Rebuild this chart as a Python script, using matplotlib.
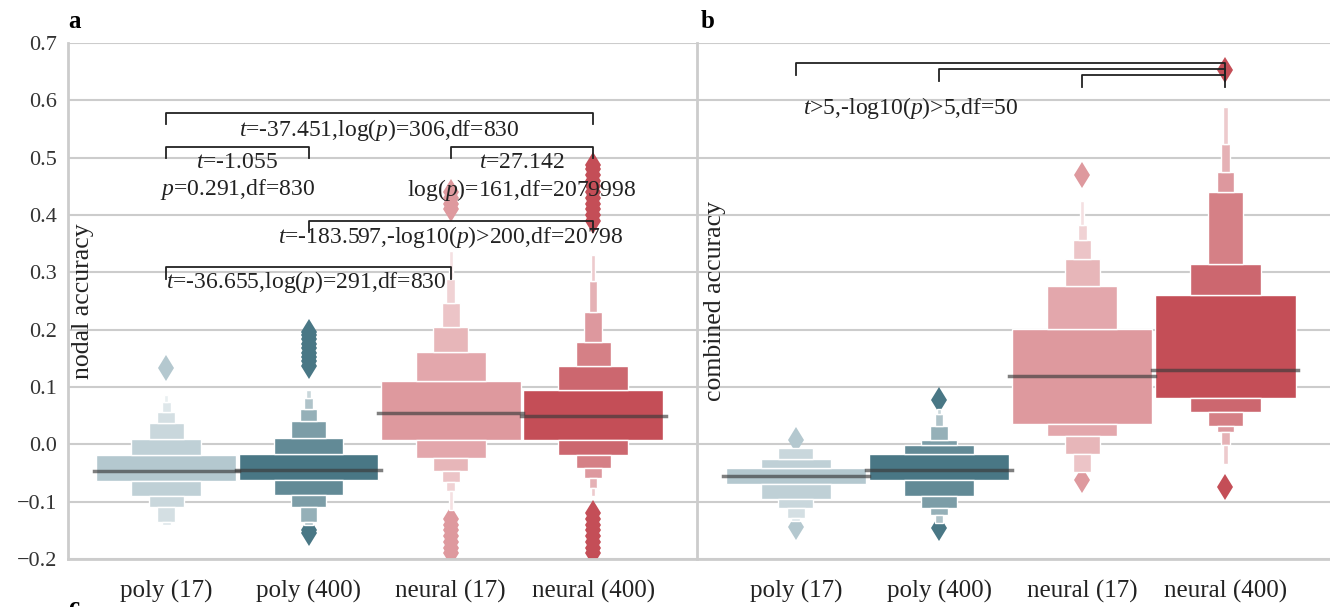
import matplotlib.pyplot as plt
import numpy as np
from matplotlib.colors import to_rgb

plt.rcParams['font.family'] = ['Liberation Serif', 'DejaVu Serif']
plt.rcParams['mathtext.fontset'] = 'custom'
plt.rcParams['mathtext.rm'] = 'Liberation Serif'
plt.rcParams['mathtext.it'] = 'Liberation Serif:italic'

categories = ['poly (17)', 'poly (400)', 'neural (17)', 'neural (400)']
colors = ['#b4c8cf', '#497785', '#de999e', '#c44e57']

# panel a: nodal accuracy (letter-value edges, median, outliers)
nodal_median = [-0.047, -0.045, 0.054, 0.049]
nodal_upper = [
    [-0.019, 0.009, 0.038, 0.056, 0.073, 0.086],
    [-0.016, 0.011, 0.040, 0.062, 0.080, 0.095],
    [0.111, 0.161, 0.204, 0.247, 0.289, 0.337],
    [0.094, 0.136, 0.179, 0.231, 0.285, 0.330],
]
nodal_lower = [
    [-0.064, -0.090, -0.110, -0.135, -0.141],
    [-0.063, -0.089, -0.110, -0.135, -0.141],
    [0.008, -0.024, -0.047, -0.066, -0.081, -0.115],
    [0.008, -0.019, -0.042, -0.059, -0.076, -0.090],
]
nodal_outliers = [
    [0.134],
    [0.136, 0.145, 0.152, 0.160, 0.168, 0.175, 0.183, 0.190, 0.196, -0.150, -0.154],
    [0.410, 0.420, 0.430, 0.440, -0.130, -0.140, -0.150, -0.160, -0.170, -0.180, -0.190],
    [0.390, 0.400, 0.410, 0.420, 0.430, 0.440, 0.450, 0.460, 0.470, 0.480, 0.488,
     -0.120, -0.130, -0.140, -0.150, -0.160, -0.170, -0.180, -0.190],
]

# panel b: combined accuracy
comb_median = [-0.056, -0.045, 0.120, 0.130]
comb_upper = [
    [-0.041, -0.026, -0.007],
    [-0.016, -0.001, 0.007, 0.032, 0.053, 0.062],
    [0.201, 0.276, 0.323, 0.357, 0.383, 0.425],
    [0.260, 0.314, 0.440, 0.475, 0.523, 0.588],
]
comb_lower = [
    [-0.069, -0.095, -0.111, -0.129, -0.134],
    [-0.063, -0.090, -0.111, -0.124, -0.137],
    [0.035, 0.015, -0.016, -0.048],
    [0.081, 0.057, 0.032, 0.021, -0.001, -0.035],
]
comb_outliers = [
    [0.007, -0.145],
    [0.078, -0.146],
    [0.469, -0.062],
    [0.653, -0.075],
]

# significance brackets: (x1, x2, y)
nodal_brackets = [(0, 3, 0.578), (0, 1, 0.519), (2, 3, 0.519), (1, 3, 0.390), (0, 2, 0.309)]
comb_brackets = [(0, 3, 0.665), (1, 3, 0.654), (2, 3, 0.644)]


def shade(c, k):
    base = np.array(to_rgb(c))
    return base + (1 - base) * min(0.14 * k, 0.8)


def boxen(ax, medians, uppers, lowers, outliers):
    for i in range(len(categories)):
        up, lo, c = uppers[i], lowers[i], colors[i]
        ax.plot([i] * len(outliers[i]), outliers[i], 'd', color=c, ms=13, mew=0, zorder=2)
        ax.bar(i, up[0] - lo[0], bottom=lo[0], width=0.98, color=shade(c, 0),
               edgecolor='white', lw=1, zorder=3)
        for k in range(1, len(up)):
            ax.bar(i, up[k] - up[k - 1], bottom=up[k - 1], width=0.98 * 0.5 ** k,
                   color=shade(c, k), edgecolor='white', lw=1, zorder=3)
        for k in range(1, len(lo)):
            ax.bar(i, lo[k - 1] - lo[k], bottom=lo[k], width=0.98 * 0.5 ** k,
                   color=shade(c, k), edgecolor='white', lw=1, zorder=3)
        ax.plot([i - 0.51, i + 0.51], [medians[i]] * 2, color='#3a3a3a', alpha=0.65,
                lw=2.5, zorder=4)


def brackets(ax, items, h=0.02):
    for x1, x2, y in items:
        ax.plot([x1, x1, x2, x2], [y - h, y, y, y - h], color='#222222', lw=1.3, zorder=5)


def style(ax):
    ax.set_xlim(-0.69, 3.73)
    ax.set_ylim(-0.2, 0.7)
    ax.set_yticks([-0.2, -0.1, 0.0, 0.1, 0.2, 0.3, 0.4, 0.5, 0.6, 0.7])
    ax.set_xticks(range(4))
    ax.set_xticklabels(categories, fontsize=18, color='#222222')
    ax.grid(axis='y', color='#cccccc', lw=1.5)
    ax.set_axisbelow(True)
    for s in ['top', 'right']:
        ax.spines[s].set_visible(False)
    for s in ['left', 'bottom']:
        ax.spines[s].set_color('#cccccc')
        ax.spines[s].set_linewidth(2)
    ax.tick_params(axis='x', length=0, pad=15)
    ax.tick_params(axis='y', length=0, pad=8, labelsize=16, labelcolor='#333333')


fig = plt.figure(figsize=(13.3, 6.07), dpi=100)
ax1 = fig.add_axes([68 / 1330, 48 / 607, 629 / 1330, 516 / 607])
ax2 = fig.add_axes([697 / 1330, 48 / 607, 633 / 1330, 516 / 607], sharey=ax1)

boxen(ax1, nodal_median, nodal_upper, nodal_lower, nodal_outliers)
boxen(ax2, comb_median, comb_upper, comb_lower, comb_outliers)
style(ax1)
style(ax2)
ax2.tick_params(axis='y', labelleft=False)

brackets(ax1, nodal_brackets)
brackets(ax2, comb_brackets, h=0.021)

fs = 17
tc = '#222222'
ax1.text(1.5, 0.549, '$t$=-37.451,log($p$)=306,df=830', ha='center', va='center', fontsize=fs, color=tc)
ax1.text(0.5, 0.491, '$t$=-1.055', ha='center', va='center', fontsize=fs, color=tc)
ax1.text(0.5, 0.444, '$p$=0.291,df=830', ha='center', va='center', fontsize=fs, color=tc)
ax1.text(2.5, 0.491, '$t$=27.142', ha='center', va='center', fontsize=fs, color=tc)
ax1.text(2.5, 0.444, 'log($p$)=161,df=2079998', ha='center', va='center', fontsize=fs, color=tc)
ax1.text(2.0, 0.362, '$t$=-183.597,-log10($p$)>200,df=20798', ha='center', va='center', fontsize=fs, color=tc)
ax1.text(0.0, 0.284, '$t$=-36.655,log($p$)=291,df=830', ha='left', va='center', fontsize=fs, color=tc)
ax2.text(0.05, 0.587, '$t$>5,-log10($p$)>5,df=50', ha='left', va='center', fontsize=fs, color=tc)

ax1.text(0.024, 0.5, 'nodal accuracy', rotation=90, transform=ax1.transAxes,
         ha='center', va='center', fontsize=18.5, color='#222222')
ax2.text(0.028, 0.5, 'combined accuracy', rotation=90, transform=ax2.transAxes,
         ha='center', va='center', fontsize=18.5, color='#222222')

fig.text(68 / 1330, 1 - 22 / 607, 'a', fontsize=18, fontweight='bold', va='center')
fig.text(701 / 1330, 1 - 22 / 607, 'b', fontsize=18, fontweight='bold', va='center')
fig.text(68 / 1330, 0.0, 'c', fontsize=18, fontweight='bold', va='center')

fig.savefig('out.png', dpi=100)
